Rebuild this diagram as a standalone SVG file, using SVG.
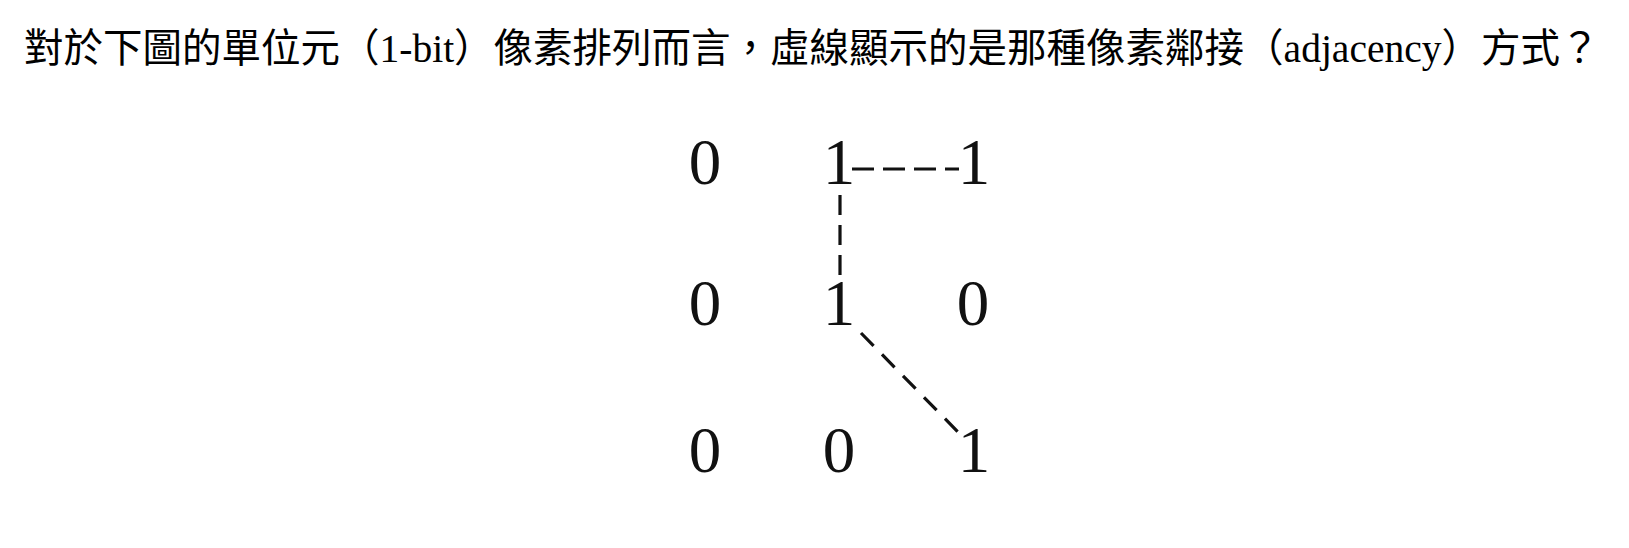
<svg xmlns="http://www.w3.org/2000/svg" width="1629" height="548" viewBox="0 0 1629 548">
<style>
.title{font-family:"Liberation Serif","Noto Sans CJK TC",serif;font-size:39.5px;fill:#000}
.d{font-family:"Liberation Serif",serif;font-size:65px;fill:#111;text-anchor:middle}
.c{stroke:#111;stroke-width:3.2;fill:none}
</style>
<rect width="1629" height="548" fill="#fff"/>
<text id="title" class="title" x="24" y="62">對於下圖的單位元（1-bit）像素排列而言，虛線顯示的是那種像素鄰接（adjacency）方式？</text>
<g id="connectors">
<line class="c" x1="852" y1="169" x2="959" y2="169" stroke-dasharray="22 9"/>
<line class="c" x1="840" y1="195" x2="840" y2="276" stroke-dasharray="20 10"/>
<line class="c" x1="861" y1="333" x2="958" y2="432" stroke-dasharray="18 12"/>
</g>
<g id="n00"><text class="d" x="705" y="184">0</text></g>
<g id="n01"><text class="d" x="839" y="184">1</text></g>
<g id="n02"><text class="d" x="974" y="184">1</text></g>
<g id="n10"><text class="d" x="705" y="325">0</text></g>
<g id="n11"><text class="d" x="839" y="325">1</text></g>
<g id="n12"><text class="d" x="973" y="325">0</text></g>
<g id="n20"><text class="d" x="705" y="472">0</text></g>
<g id="n21"><text class="d" x="839" y="472">0</text></g>
<g id="n22"><text class="d" x="974" y="472">1</text></g>
</svg>
